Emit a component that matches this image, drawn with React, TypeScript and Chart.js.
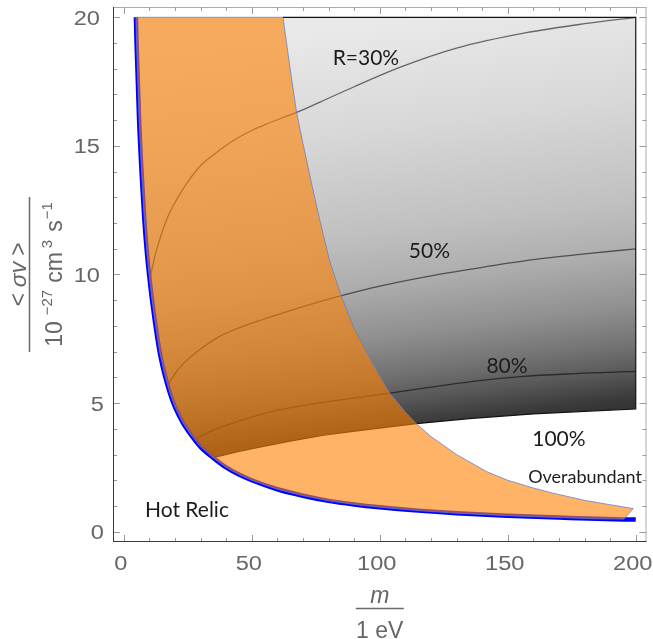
import React, { useEffect, useRef } from "react";
import { Chart, registerables } from "chart.js";

Chart.register(...registerables);

type Pt = [number, number];

// ---- tick values ----
const xTickLabels = [0, 50, 100, 150, 200];
const xMinorTicks = [10, 20, 30, 40, 60, 70, 80, 90, 110, 120, 130, 140, 160, 170, 180, 190];
const yTickLabels = [0, 5, 10, 15, 20];
const yMinorTicks = [1, 2, 3, 4, 6, 7, 8, 9, 11, 12, 13, 14, 16, 17, 18, 19];

// ---- curves (m [eV], <sigma v> [1e-27 cm^3 s^-1]) ----
const hotRelic: Pt[] = [
  [4.75, 20], [5, 19.0], [6, 16.0], [7, 13.9], [8, 12.2], [9, 10.9], [10, 9.9], [11, 9.05],
  [12, 8.3], [14, 7.0], [16, 6.1], [18, 5.4], [20, 4.85], [23, 4.25], [26, 3.8], [30, 3.3],
  [35, 2.87], [40, 2.5], [45, 2.22], [50, 2.0], [60, 1.65], [70, 1.4], [80, 1.2], [90, 1.06],
  [100, 0.95], [115, 0.82], [130, 0.72], [150, 0.62], [170, 0.55], [185, 0.5], [200, 0.47],
];

const overabundant: Pt[] = [
  [62.2, 20], [65, 18.0], [67.5, 16.3], [70, 15.1], [73, 13.7], [76.6, 12.1], [80.5, 10.5],
  [85, 9.15], [90, 7.9], [95, 6.95], [100, 6.05], [103.9, 5.39], [110, 4.65], [114.3, 4.2],
  [120, 3.7], [130, 3.0], [141.7, 2.34], [150, 2.0], [160, 1.7], [167.7, 1.5], [180, 1.22],
  [190, 1.05], [199, 0.9],
];

const orangeTip: Pt[] = [[195.4, 0.49]];

const contour30: Pt[] = [
  [10.16, 9.8], [12, 10.65], [14, 11.35], [17, 12.2], [20.6, 12.9], [25, 13.6], [29.7, 14.2],
  [35, 14.65], [42.7, 15.2], [50, 15.6], [55.7, 15.85], [67.5, 16.3], [76.6, 16.7], [90, 17.3],
  [107.8, 18.05], [130, 18.8], [157.3, 19.4], [180, 19.75], [200, 20],
];

const contour50: Pt[] = [
  [17.3, 5.7], [20, 6.15], [25, 6.7], [30, 7.1], [35, 7.45], [40, 7.72], [47, 8.0], [55, 8.27],
  [65, 8.6], [76.6, 8.95], [85, 9.18], [100, 9.55], [120, 9.95], [141.7, 10.31], [160, 10.58],
  [180, 10.8], [200, 11.0],
];

const contour80: Pt[] = [
  [27.7, 3.6], [35, 3.95], [45, 4.3], [55, 4.6], [65, 4.82], [78, 5.03], [90, 5.2], [104, 5.39],
  [120, 5.62], [140, 5.88], [155, 6.03], [175, 6.14], [200, 6.23],
];

const contour100: Pt[] = [
  [34.9, 2.88], [45, 3.12], [55, 3.33], [65, 3.52], [78, 3.75], [95, 3.97], [114.3, 4.2],
  [135, 4.4], [160, 4.58], [180, 4.68], [200, 4.77],
];

const grayCorner: Pt[] = [[200, 20]];

const textLabels = [
  { text: "R=30%", m: 94.6, s: 18.15, kind: "big" },
  { text: "50%", m: 119.4, s: 10.63, kind: "big" },
  { text: "80%", m: 149.7, s: 6.16, kind: "big" },
  { text: "100%", m: 170.0, s: 3.33, kind: "big" },
  { text: "Overabundant", m: 180.2, s: 1.88, kind: "small" },
  { text: "Hot Relic", m: 24.7, s: 0.58, kind: "big" },
];

const toXY = (pts: Pt[]) => pts.map(([x, y]) => ({ x, y }));

const grayPoly: Pt[] = [...contour100, ...grayCorner, ...hotRelic.filter((p) => p[0] < 34.9)];
const grayEdge: Pt[] = [...contour100, ...grayCorner, overabundant[0]];
const orangePoly: Pt[] = [
  ...hotRelic.filter((p) => p[0] < 195),
  ...orangeTip,
  ...[...overabundant].reverse(),
  hotRelic[0],
];

const AXIS_FONT = '"Liberation Sans", Arial, sans-serif';
const LABEL_FONT = 'Lato, "Noto Sans", sans-serif';

const decorPlugin = {
  id: "decor",
  afterDraw(chart: any) {
    const { ctx, chartArea: a, scales } = chart;
    const xs = scales.x;
    const ys = scales.y;
    ctx.save();

    // top/right frame (light)
    ctx.lineWidth = 1;
    ctx.strokeStyle = "#adadad";
    ctx.beginPath();
    ctx.moveTo(a.left, a.top + 0.5);
    ctx.lineTo(a.right, a.top + 0.5);
    ctx.moveTo(a.right - 0.5, a.top);
    ctx.lineTo(a.right - 0.5, a.bottom);
    ctx.stroke();

    // ticks
    ctx.strokeStyle = "#9a9a9a";
    ctx.beginPath();
    const tickX = (v: number, len: number) => {
      const p = Math.round(xs.getPixelForValue(v)) + 0.5;
      ctx.moveTo(p, a.bottom);
      ctx.lineTo(p, a.bottom - len);
      ctx.moveTo(p, a.top);
      ctx.lineTo(p, a.top + len);
    };
    const tickY = (v: number, len: number) => {
      const p = Math.round(ys.getPixelForValue(v)) + 0.5;
      ctx.moveTo(a.left, p);
      ctx.lineTo(a.left + len, p);
      ctx.moveTo(a.right, p);
      ctx.lineTo(a.right - len, p);
    };
    xTickLabels.forEach((v) => tickX(v, 7));
    xMinorTicks.forEach((v) => tickX(v, 4));
    yTickLabels.forEach((v) => tickY(v, 7));
    yMinorTicks.forEach((v) => tickY(v, 4));
    ctx.stroke();

    // left/bottom frame (dark)
    ctx.strokeStyle = "#3a3a3a";
    ctx.beginPath();
    ctx.moveTo(a.left + 0.5, a.top);
    ctx.lineTo(a.left + 0.5, a.bottom);
    ctx.moveTo(a.left, a.bottom - 0.5);
    ctx.lineTo(a.right, a.bottom - 0.5);
    ctx.stroke();

    // tick labels
    const drawScaled = (t: string, x: number, y: number, align: CanvasTextAlign, sx: number) => {
      ctx.save();
      ctx.translate(x, y);
      ctx.scale(sx, 1);
      ctx.textAlign = align;
      ctx.textBaseline = "alphabetic";
      ctx.fillText(t, 0, 0);
      ctx.restore();
    };
    ctx.fillStyle = "#666666";
    ctx.font = `20px ${AXIS_FONT}`;
    xTickLabels.forEach((v) => drawScaled(String(v), xs.getPixelForValue(v) - 3, a.bottom + 28, "center", 1.18));
    yTickLabels.forEach((v) => {
      const s = String(v);
      drawScaled(s, a.left - (s.length > 1 ? 13 : 9), ys.getPixelForValue(v) + 7.5, "right", 1.18);
    });

    // y-axis title (rotated fraction)
    const midY = ys.getPixelForValue(10);
    const drawPieces = (pieces: { t: string; f: string; dy: number; gap: number }[]) => {
      let total = 0;
      pieces.forEach((p, i) => {
        ctx.font = p.f;
        total += ctx.measureText(p.t).width + (i < pieces.length - 1 ? p.gap : 0);
      });
      let u = -total / 2;
      pieces.forEach((p) => {
        ctx.font = p.f;
        ctx.fillText(p.t, u, p.dy);
        u += ctx.measureText(p.t).width + p.gap;
      });
    };
    ctx.fillStyle = "#666666";
    ctx.textAlign = "left";
    ctx.textBaseline = "alphabetic";
    ctx.save();
    ctx.translate(26, midY);
    ctx.rotate(-Math.PI / 2);
    drawPieces([
      { t: "<", f: `23px ${AXIS_FONT}`, dy: 0, gap: 6 },
      { t: "σv", f: `italic 23px ${AXIS_FONT}`, dy: 0, gap: 6 },
      { t: ">", f: `23px ${AXIS_FONT}`, dy: 0, gap: 0 },
    ]);
    ctx.restore();

    ctx.strokeStyle = "#6a6a6a";
    ctx.lineWidth = 1.5;
    ctx.beginPath();
    ctx.moveTo(29.5, midY - 77.5);
    ctx.lineTo(29.5, midY + 77.5);
    ctx.stroke();

    ctx.save();
    ctx.translate(62, midY);
    ctx.rotate(-Math.PI / 2);
    drawPieces([
      { t: "10", f: `23px ${AXIS_FONT}`, dy: 0, gap: 6 },
      { t: "\u221227", f: `15px ${AXIS_FONT}`, dy: -10, gap: 7 },
      { t: "cm", f: `23px ${AXIS_FONT}`, dy: 0, gap: 4 },
      { t: "3", f: `15px ${AXIS_FONT}`, dy: -10, gap: 8 },
      { t: "s", f: `23px ${AXIS_FONT}`, dy: 0, gap: 1 },
      { t: "\u22121", f: `15px ${AXIS_FONT}`, dy: -10, gap: 0 },
    ]);
    ctx.restore();

    // x-axis title (fraction)
    const cx = (a.left + a.right) / 2;
    ctx.textAlign = "center";
    ctx.font = `italic 23px ${AXIS_FONT}`;
    ctx.fillText("m", cx, 603);
    ctx.beginPath();
    ctx.moveTo(cx - 24, 608.5);
    ctx.lineTo(cx + 24, 608.5);
    ctx.stroke();
    ctx.font = `23px ${AXIS_FONT}`;
    ctx.fillText("1 eV", cx, 637.5);

    // region labels
    ctx.fillStyle = "#1c1c1c";
    ctx.textAlign = "center";
    textLabels.forEach((l) => {
      ctx.font = l.kind === "small" ? `18px ${LABEL_FONT}` : `21px ${LABEL_FONT}`;
      ctx.fillText(l.text, xs.getPixelForValue(l.m), ys.getPixelForValue(l.s));
    });

    ctx.restore();
  },
};

const grayGradient = (context: any) => {
  const chart = context.chart;
  const { chartArea, scales } = chart;
  if (!chartArea) return "#999";
  const y0 = scales.y.getPixelForValue(20);
  const y1 = scales.y.getPixelForValue(3);
  const h = y1 - y0;
  const cx = scales.x.getPixelForValue(130);
  const g = chart.ctx.createLinearGradient(cx - 0.06 * h, y0, cx + 0.06 * h, y1);
  g.addColorStop(0, "#e9e9e9");
  g.addColorStop(0.235, "#d8d8d8");
  g.addColorStop(0.47, "#c0c0c0");
  g.addColorStop(0.588, "#adadad");
  g.addColorStop(0.706, "#909090");
  g.addColorStop(0.794, "#727272");
  g.addColorStop(0.853, "#585858");
  g.addColorStop(0.912, "#3a3a3a");
  g.addColorStop(1, "#222222");
  return g;
};

export default function App() {
  const ref = useRef<HTMLCanvasElement | null>(null);

  useEffect(() => {
    if (!ref.current) return;
    const contourStyle = {
      borderColor: "rgba(0,0,0,0.55)",
      borderWidth: 1.3,
      fill: false,
      order: 5,
      cubicInterpolationMode: "monotone",
    };
    const chart = new Chart(ref.current, {
      type: "line",
      data: {
        datasets: [
          {
            label: "gray",
            data: toXY(grayPoly),
            fill: "shape",
            backgroundColor: grayGradient,
            borderColor: "rgba(0,0,0,0)",
            borderWidth: 1,
            order: 6,
          },
          { label: "R30", data: toXY(contour30), ...contourStyle },
          { label: "R50", data: toXY(contour50), ...contourStyle },
          { label: "R80", data: toXY(contour80), ...contourStyle },
          {
            label: "edge",
            data: toXY(grayEdge),
            borderColor: "#141414",
            borderWidth: 1.2,
            fill: false,
            order: 4,
          },
          {
            label: "hot relic",
            data: toXY(hotRelic),
            borderColor: "#0000ff",
            borderWidth: 4.5,
            borderCapStyle: "butt",
            cubicInterpolationMode: "monotone",
            fill: false,
            order: 3,
          },
          {
            label: "orange",
            data: toXY(orangePoly),
            fill: "shape",
            backgroundColor: "rgba(255,128,0,0.6)",
            borderColor: "rgba(95,125,205,0.75)",
            borderWidth: 1,
            order: 2,
          },
        ] as any,
      },
      options: {
        animation: false,
        responsive: false,
        maintainAspectRatio: false,
        layout: { padding: { left: 113, top: 7, right: 6.5, bottom: 97 } },
        elements: { point: { radius: 0, hoverRadius: 0 }, line: { tension: 0 } },
        plugins: { legend: { display: false }, tooltip: { enabled: false } },
        events: [],
        scales: {
          x: { type: "linear", display: false, min: -4.2, max: 204.2 },
          y: { type: "linear", display: false, min: -0.4, max: 20.4 },
        },
      },
      plugins: [decorPlugin],
    });
    return () => chart.destroy();
  }, []);

  return (
    <div style={{ position: "fixed", left: 0, top: 0, width: 653, height: 639, background: "#ffffff" }}>
      <canvas ref={ref} width={653} height={639} style={{ display: "block", width: 653, height: 639 }} />
    </div>
  );
}
